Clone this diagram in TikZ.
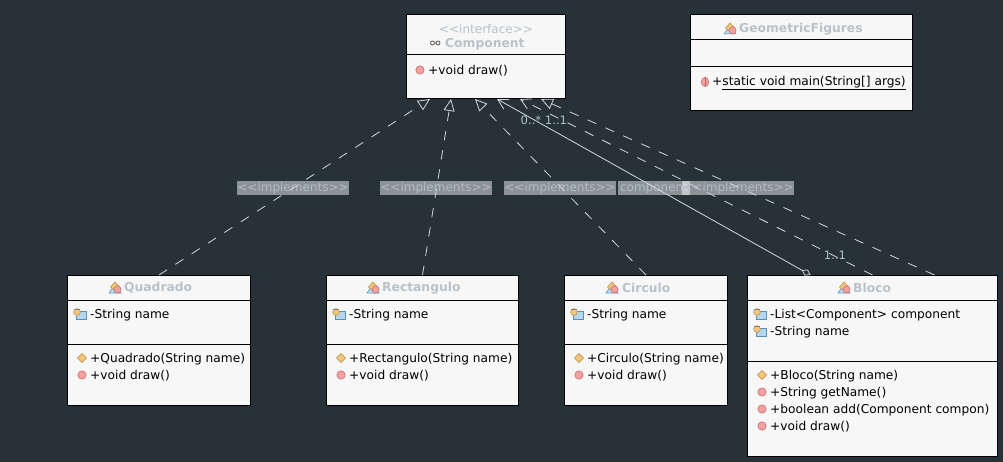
\documentclass[tikz,border=0pt]{standalone}
\usepackage{fontspec}
\setmainfont{DejaVu Sans}
\usetikzlibrary{arrows.meta}
\definecolor{bgdark}{HTML}{263238}
\definecolor{boxfill}{HTML}{F7F7F7}
\definecolor{headtext}{HTML}{B8C2C8}
\definecolor{linelight}{HTML}{CFD8DC}
\definecolor{tagtext}{HTML}{B0BEC5}
\definecolor{iconred}{HTML}{F4A0A0}
\definecolor{iconorange}{HTML}{F2C67C}
\definecolor{iconblue}{HTML}{B4D6EE}
\definecolor{edgered}{HTML}{C06868}
\definecolor{edgeorange}{HTML}{B88A40}
\definecolor{edgeblue}{HTML}{5A8FB8}
\tikzstyle{compart} = [draw=black, fill=boxfill, line width=1pt, rectangle, anchor=north west, outer sep=0pt, inner sep=0pt, xshift=-0.5pt]
\tikzstyle{row} = [anchor=west, inner sep=0pt, text=black, yshift=-1pt, font=\fontsize{12.2}{14}\selectfont]
\tikzstyle{headname} = [anchor=west, inner sep=0pt, text=headtext, yshift=-1pt, font=\fontsize{12.3}{14}\selectfont\bfseries]
\tikzstyle{tag} = [fill=white, fill opacity=0.47, text opacity=1, text=tagtext, inner sep=0pt, text height=9.5pt, text depth=3pt, minimum height=14pt, font=\fontsize{12}{14}\selectfont]
\tikzstyle{mult} = [inner sep=0pt, text=tagtext, font=\fontsize{11.6}{14}\selectfont]
\tikzstyle{realize} = [draw=linelight, line width=0.8pt, dash pattern=on 9.5pt off 10pt, -{Triangle[open, length=12pt, width=11pt]}]
\tikzstyle{assoc} = [draw=linelight, line width=0.8pt, dash pattern=on 9.5pt off 10pt, -{Straight Barb[length=10pt, width=11pt]}]
\tikzstyle{aggreg} = [draw=linelight, line width=0.8pt, {Diamond[open, length=10pt, width=7pt]}-{Straight Barb[length=10pt, width=11pt]}]
\tikzset{
  methodicon/.pic={\fill[iconred, draw=edgered, line width=0.5pt] (0,0) circle (4.2pt);},
  staticicon/.pic={\fill[iconred, draw=edgered, line width=0.5pt] (0,0) ellipse (3.8pt and 4.6pt); \draw[edgered, line width=0.5pt] (0,-4.5) -- (0,4.5);},
  ctoricon/.pic={\fill[iconorange, draw=edgeorange, line width=0.5pt] (-4.5,0) -- (0,-4.5) -- (4.5,0) -- (0,4.5) -- cycle;},
  fieldicon/.pic={\fill[iconblue, draw=edgeblue, line width=0.7pt] (5.5,-2.5) rectangle (15,5);
    \fill[iconorange, draw=edgeorange, line width=0.5pt] (6,-2) circle (3.4pt);
    \draw[gray, line width=1pt] (3,-5) -- (9,-5);},
  classicon/.pic={\fill[iconblue, draw=edgeblue, line width=0.5pt] (0,6) -- (4,0) -- (12,6) -- cycle;
    \fill[iconorange, draw=edgeorange, line width=0.5pt] (1.5,0) -- (6,-5) -- (10.5,0) -- (6,4) -- cycle;
    \fill[iconred, draw=edgered, line width=0.5pt] (8.5,2.5) circle (3.6pt);},
  keyicon/.pic={\draw[gray!70!black, line width=0.8pt] (2.5,0) circle (2pt) (8,0) circle (2pt) (4.5,0) -- (6,0);}
}

\begin{document}
\begin{tikzpicture}[x=1pt, y=-1pt]
  \fill[bgdark] (0,0) rectangle (1003,462);

  % interface
  \node (component head) at(407, 15) [compart, minimum width=159pt, minimum height=40pt] {};
  \node (component meths) at(407, 55) [compart, minimum width=159pt, minimum height=44pt] {};
  \node (component stereo) at(486, 28) [headname, anchor=center, font=\fontsize{12}{14}\selectfont] {<{}<interface>{}>};
  \node (component name) at(445, 43) [headname] {Component};
  \pic at (430, 43) {keyicon};
  \pic at (420, 70) {methodicon};
  \node (component draw) at(428, 70) [row] {+void draw()};

  % main class
  \node (figures head) at(691, 15) [compart, minimum width=222pt, minimum height=25pt] {};
  \node (figures attrs) at(691, 40) [compart, minimum width=222pt, minimum height=27pt] {};
  \node (figures meths) at(691, 67) [compart, minimum width=222pt, minimum height=44pt] {};
  \pic at (724, 28) {classicon};
  \node (figures name) at(739, 28) [headname] {GeometricFigures};
  \pic at (705, 82) {staticicon};
  \node (figures main) at(712, 82) [row] {+\underline{static void main(String[] args)}};

  % quadrado
  \node (quadrado head) at(68, 275) [compart, minimum width=183pt, minimum height=25pt] {};
  \node (quadrado attrs) at(68, 300) [compart, minimum width=183pt, minimum height=44pt] {};
  \node (quadrado meths) at(68, 344) [compart, minimum width=183pt, minimum height=61pt] {};
  \pic at (109, 287) {classicon};
  \node (quadrado title) at(124, 287) [headname] {Quadrado};
  \pic at (71, 314) {fieldicon};
  \node (quadrado name) at(90, 314) [row] {-String name};
  \pic at (82, 358) {ctoricon};
  \node (quadrado ctor) at(90, 358) [row] {+Quadrado(String name)};
  \pic at (82, 375) {methodicon};
  \node (quadrado draw) at(90, 375) [row] {+void draw()};

  % rectangulo
  \node (rectangulo head) at(327, 275) [compart, minimum width=192pt, minimum height=25pt] {};
  \node (rectangulo attrs) at(327, 300) [compart, minimum width=192pt, minimum height=44pt] {};
  \node (rectangulo meths) at(327, 344) [compart, minimum width=192pt, minimum height=61pt] {};
  \pic at (367, 287) {classicon};
  \node (rectangulo title) at(382, 287) [headname] {Rectangulo};
  \pic at (330, 314) {fieldicon};
  \node (rectangulo name) at(349, 314) [row] {-String name};
  \pic at (341, 358) {ctoricon};
  \node (rectangulo ctor) at(349, 358) [row] {+Rectangulo(String name)};
  \pic at (341, 375) {methodicon};
  \node (rectangulo draw) at(349, 375) [row] {+void draw()};

  % circulo
  \node (circulo head) at(565, 275) [compart, minimum width=163pt, minimum height=25pt] {};
  \node (circulo attrs) at(565, 300) [compart, minimum width=163pt, minimum height=44pt] {};
  \node (circulo meths) at(565, 344) [compart, minimum width=163pt, minimum height=61pt] {};
  \pic at (606, 287) {classicon};
  \node (circulo title) at(622, 287) [headname] {Circulo};
  \pic at (568, 314) {fieldicon};
  \node (circulo name) at(587, 314) [row] {-String name};
  \pic at (579, 358) {ctoricon};
  \node (circulo ctor) at(587, 358) [row] {+Circulo(String name)};
  \pic at (579, 375) {methodicon};
  \node (circulo draw) at(587, 375) [row] {+void draw()};

  % bloco
  \node (bloco head) at(748, 275) [compart, minimum width=250pt, minimum height=25pt] {};
  \node (bloco attrs) at(748, 300) [compart, minimum width=250pt, minimum height=61pt] {};
  \node (bloco meths) at(748, 361) [compart, minimum width=250pt, minimum height=95pt] {};
  \pic at (838, 287) {classicon};
  \node (bloco title) at(853, 287) [headname] {Bloco};
  \pic at (751, 314) {fieldicon};
  \node (bloco list) at(770, 314) [row] {-List<Component> component};
  \pic at (751, 331) {fieldicon};
  \node (bloco name) at(770, 331) [row] {-String name};
  \pic at (762, 375) {ctoricon};
  \node (bloco ctor) at(770, 375) [row] {+Bloco(String name)};
  \pic at (762, 392) {methodicon};
  \node (bloco get) at(770, 392) [row] {+String getName()};
  \pic at (762, 409) {methodicon};
  \node (bloco add) at(770, 409) [row] {+boolean add(Component compon)};
  \pic at (762, 426) {methodicon};
  \node (bloco draw) at(770, 426) [row] {+void draw()};

  % labels
  \node (tag quadrado) at(293, 188) [tag, minimum width=112pt] {<{}<implements>{}>};
  \node (tag rectangulo) at(436, 188) [tag, minimum width=112pt] {<{}<implements>{}>};
  \node (tag circulo) at(560, 188) [tag, minimum width=112pt] {<{}<implements>{}>};
  \node (tag component) at(654, 188) [tag, minimum width=72pt] {component};
  \node (tag bloco) at(738, 188) [tag, minimum width=112pt] {<{}<implements>{}>};
  \node (mult many) at(531, 120) [mult] {0..*};
  \node (mult one) at(556, 120) [mult] {1..1};
  \node (mult bloco) at(835, 255) [mult] {1..1};

  \path (quadrado head.north) edge[realize] ([xshift=-56pt]component meths.south)
        (rectangulo head.north) edge[realize] ([xshift=-35pt]component meths.south)
        (circulo head.north) edge[realize] ([xshift=-11pt]component meths.south)
        ([xshift=-62pt]bloco head.north) edge[aggreg] ([xshift=11pt]component meths.south)
        (bloco head.north) edge[assoc] ([xshift=34pt]component meths.south)
        ([xshift=62pt]bloco head.north) edge[realize] ([xshift=55pt]component meths.south);
\end{tikzpicture}
\end{document}
